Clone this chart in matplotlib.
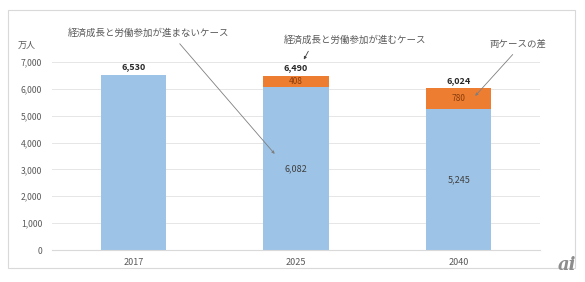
import matplotlib
matplotlib.use("Agg")
import matplotlib.pyplot as plt
from matplotlib.patches import Rectangle

plt.rcParams["font.family"] = ["Noto Sans CJK JP", "DejaVu Sans"]

years = ["2017", "2025", "2040"]
base = [6530, 6082, 5245]
diff = [0, 408, 780]
totals = [6530, 6490, 6024]

BLUE = "#9DC3E6"
ORANGE = "#ED7D31"
GRAY = "#595959"

fig = plt.figure(figsize=(5.85, 2.82), dpi=100)
fig.patches.append(Rectangle((8 / 585, 1 - 268 / 282), 567 / 585, 258 / 282,
                             transform=fig.transFigure, fill=False,
                             edgecolor="#d9d9d9", linewidth=0.8))
ax = fig.add_axes([52 / 585, 1 - 250 / 282, 488 / 585, 188 / 282])

x = range(len(years))
ax.bar(x, base, width=0.4, color=BLUE, zorder=2)
ax.bar(x, diff, bottom=base, width=0.4, color=ORANGE, zorder=2)

ax.set_xlim(-0.5, 2.5)
ax.set_ylim(0, 7000)
ax.set_yticks(range(0, 7001, 1000))
ax.set_yticklabels([f"{v:,}" for v in range(0, 7001, 1000)])
ax.set_xticks(list(x))
ax.set_xticklabels(years)
ax.tick_params(axis="y", length=0, labelsize=6.2, colors=GRAY, pad=7)
ax.tick_params(axis="x", length=0, labelsize=6.5, colors=GRAY, pad=6)
ax.grid(True, axis="y", color="#e6e6e6", linewidth=0.7, zorder=0)
for s in ["top", "right", "left"]:
    ax.spines[s].set_visible(False)
ax.spines["bottom"].set_color("#d9d9d9")

# totals on top
for i, t in enumerate(totals):
    ax.text(i, t + 120, f"{t:,}", ha="center", va="bottom", fontsize=6.5,
            fontweight="bold", color="#262626")
# inner labels
ax.text(1, 3020, f"{base[1]:,}", ha="center", va="center", fontsize=6.5, color="#404040")
ax.text(2, 2600, f"{base[2]:,}", ha="center", va="center", fontsize=6.5, color="#404040")
ax.text(1, base[1] + diff[1] / 2, f"{diff[1]}", ha="center", va="center", fontsize=6, color="#8a3d0c")
ax.text(2, base[2] + diff[2] / 2, f"{diff[2]}", ha="center", va="center", fontsize=6, color="#8a3d0c")

fig.text(18 / 585, 1 - 45 / 282, "万人", ha="left", va="center", fontsize=6.5, color=GRAY)

ax.annotate("経済成長と労働参加が進まないケース", xy=(0.88, 3500), xytext=(0.095, 8080),
            fontsize=6.8, color=GRAY, ha="center", va="center",
            arrowprops=dict(arrowstyle="-|>", color="#7f7f7f", lw=0.6, mutation_scale=4,
                            shrinkA=3, relpos=(0.66, 0)), annotation_clip=False)
ax.annotate("経済成長と労働参加が進むケース", xy=(1.04, 7000), xytext=(1.36, 7820),
            fontsize=6.8, color=GRAY, ha="center", va="center",
            arrowprops=dict(arrowstyle="-|>", color="#404040", lw=0.6, mutation_scale=4,
                            shrinkA=3, relpos=(0.2, 0)), annotation_clip=False)
ax.annotate("両ケースの差", xy=(2.09, 5660), xytext=(2.365, 7670),
            fontsize=6.8, color=GRAY, ha="center", va="center",
            arrowprops=dict(arrowstyle="-|>", color="#7f7f7f", lw=0.6, mutation_scale=4,
                            shrinkA=3, relpos=(0.5, 0)), annotation_clip=False)

fig.text(567 / 585, 1 - 265 / 282, "ai", fontsize=13, color="#8c8c8c", style="italic",
         fontweight="bold", ha="center", va="center", family="DejaVu Serif")

fig.savefig("out.png", dpi=100)
